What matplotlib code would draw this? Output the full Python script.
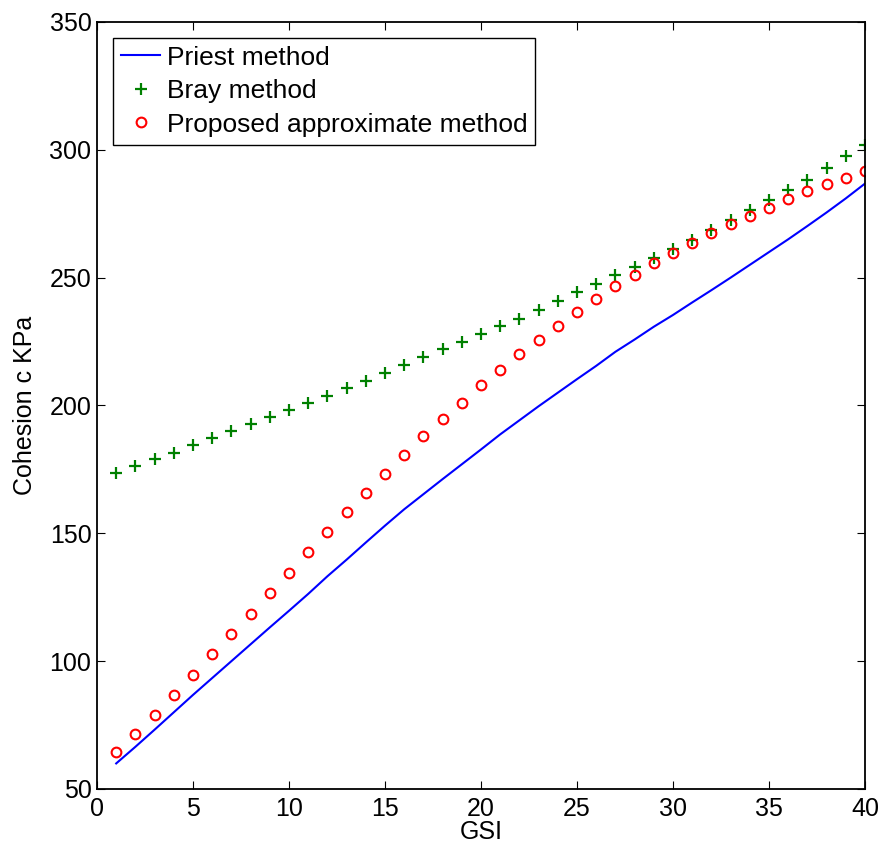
import numpy as np
import matplotlib.pyplot as plt

plt.rcParams['font.family'] = ['Liberation Sans', 'DejaVu Sans']

gsi = np.arange(1, 41)

# Priest method cohesion (kPa)
priest = [60.0, 66.5, 73.2, 80.0, 86.8, 93.4, 100.0, 106.6, 113.2, 119.7,
          126.3, 133.2, 139.7, 146.4, 153.0, 159.4, 165.3, 171.2, 177.0, 182.8,
          188.7, 194.2, 199.7, 205.0, 210.3, 215.5, 221.0, 225.8, 230.8, 235.4,
          240.3, 245.1, 250.0, 255.0, 260.0, 265.0, 270.2, 275.5, 281.0, 286.8]

# Bray method cohesion (kPa)
bray = [173.6, 176.2, 179.0, 181.6, 184.4, 187.2, 190.0, 192.6, 195.4, 198.4,
        201.1, 203.9, 206.9, 209.7, 212.8, 215.8, 218.8, 221.9, 225.0, 228.0,
        231.0, 234.0, 237.5, 240.8, 244.2, 247.5, 250.9, 254.3, 257.8, 261.3,
        264.7, 268.6, 272.5, 276.6, 280.3, 284.2, 288.3, 292.7, 297.4, 302.0]

# proposed approximate method cohesion (kPa)
approx = [64.4, 71.6, 79.0, 86.7, 94.6, 102.8, 110.8, 118.5, 126.7, 134.4,
          142.6, 150.5, 158.5, 165.9, 173.3, 180.7, 188.0, 194.7, 201.0, 208.0,
          213.9, 220.0, 225.6, 231.0, 236.6, 241.7, 246.8, 251.0, 255.7, 259.7,
          263.6, 267.5, 270.9, 274.3, 277.4, 280.6, 283.8, 286.5, 288.8, 291.6]

fs = 18

fig = plt.figure(figsize=(8.85, 8.55), dpi=100)
ax = fig.add_axes([0.1096, 0.0772, 0.8678, 0.8971])

ax.plot(gsi, priest, '-', color='#0000ff', lw=1.5, label='Priest method')
ax.plot(gsi, bray, '+', color='#008000', ms=8, mew=1.6, label='Bray method')
ax.plot(gsi, approx, 'o', color='#ff0000', mfc='none', ms=7, mew=1.5,
        label='Proposed approximate method')

ax.set_xlim(0, 40)
ax.set_ylim(50, 350)
ax.set_xticks(np.arange(0, 41, 5))
ax.set_yticks(np.arange(50, 351, 50))
ax.tick_params(direction='in', top=True, right=True, labelsize=fs, length=6, width=0.8)
ax.tick_params(axis='x', pad=6)
ax.tick_params(axis='y', pad=4)
for s in ax.spines.values():
    s.set_linewidth(1.3)

ax.set_xlabel('GSI', fontsize=fs, labelpad=-1)
ax.set_ylabel('Cohesion c KPa', fontsize=fs, labelpad=9)

leg = ax.legend(loc='upper left', fontsize=19, fancybox=False, edgecolor='black',
                framealpha=1, borderpad=0.3, labelspacing=0.36, handlelength=1.5,
                handletextpad=0.25, borderaxespad=0.6, numpoints=1)
leg.get_frame().set_linewidth(1.0)

fig.savefig('out.png', dpi=100)
